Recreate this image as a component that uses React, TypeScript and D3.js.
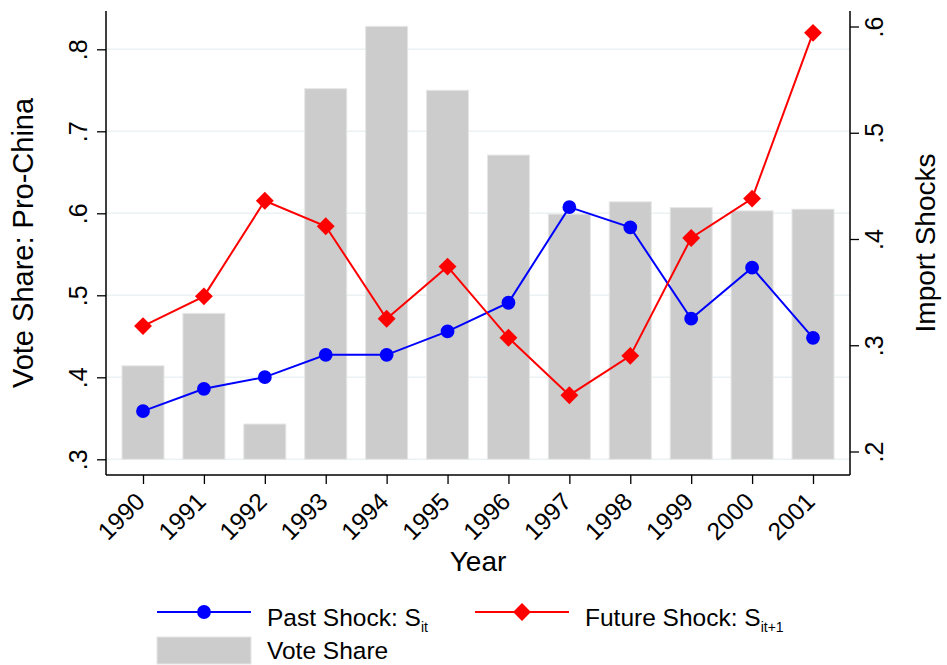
import React, { useEffect, useRef } from 'react'
import * as d3 from 'd3'

const years = [1990, 1991, 1992, 1993, 1994, 1995, 1996, 1997, 1998, 1999, 2000, 2001]
const voteShare = [0.414, 0.478, 0.343, 0.752, 0.828, 0.750, 0.671, 0.599, 0.614, 0.607, 0.603, 0.605]
const pastShock = [0.238, 0.259, 0.270, 0.291, 0.291, 0.313, 0.340, 0.430, 0.411, 0.325, 0.373, 0.307]
const futureShock = [0.318, 0.346, 0.436, 0.412, 0.325, 0.374, 0.307, 0.253, 0.290, 0.401, 0.438, 0.594]
const leftTicks = [0.3, 0.4, 0.5, 0.6, 0.7, 0.8]
const rightTicks = [0.2, 0.3, 0.4, 0.5, 0.6]

const FONT = '"Liberation Sans", Arial, Helvetica, sans-serif'

export default function App() {
  const svgRef = useRef<SVGSVGElement>(null)

  useEffect(() => {
    const svg = d3.select(svgRef.current)
    svg.selectAll('*').remove()

    // plot region (Stata-ish layout)
    const left = 106, right = 850, top = 11, bottom = 475

    const x = d3.scaleLinear().domain([1990, 2001]).range([143, 813])
    const yLeft = d3.scaleLinear().domain([0.3, 0.8]).range([459.3, 49.3])
    const yRight = d3.scaleLinear().domain([0.2, 0.6]).range([451.5, 26.5])
    const step = x(1991) - x(1990)
    const barW = step * 0.69
    const fmt = (d: number) => d3.format('.1f')(d).replace(/^0/, '')

    // gridlines
    svg.append('g').selectAll('line').data(leftTicks).join('line')
      .attr('x1', left).attr('x2', right)
      .attr('y1', d => yLeft(d)).attr('y2', d => yLeft(d))
      .attr('stroke', '#eaf2f3').attr('stroke-width', 1.6)

    // bars
    svg.append('g').selectAll('rect').data(years).join('rect')
      .attr('x', d => x(d) - barW / 2)
      .attr('width', barW)
      .attr('y', (d, i) => yLeft(voteShare[i]))
      .attr('height', (d, i) => yLeft(0.3) - yLeft(voteShare[i]))
      .attr('fill', '#cccccc')
      .attr('stroke', '#e6e6e6').attr('stroke-width', 1)

    const line = (vals: number[]) => d3.line<number>()
      .x((d, i) => x(years[i]))
      .y(d => yRight(d))(vals)

    const circle = d3.symbol(d3.symbolCircle, 150)
    const diamond = d3.symbol(d3.symbolSquare, 160)

    svg.append('path').attr('d', line(pastShock))
      .attr('fill', 'none').attr('stroke', '#0000ff').attr('stroke-width', 2)
    svg.append('path').attr('d', line(futureShock))
      .attr('fill', 'none').attr('stroke', '#ff0000').attr('stroke-width', 2)

    svg.append('g').selectAll('path').data(pastShock).join('path')
      .attr('d', circle)
      .attr('transform', (d, i) => `translate(${x(years[i])},${yRight(d)})`)
      .attr('fill', '#0000ff')
    svg.append('g').selectAll('path').data(futureShock).join('path')
      .attr('d', diamond)
      .attr('transform', (d, i) => `translate(${x(years[i])},${yRight(d)}) rotate(45)`)
      .attr('fill', '#ff0000')

    // axes
    const leftAxis = svg.append('g').attr('transform', `translate(${left},0)`)
      .call(d3.axisLeft(yLeft).tickValues(leftTicks).tickSize(9).tickSizeOuter(0).tickFormat(fmt as any))
    const rightAxis = svg.append('g').attr('transform', `translate(${right},0)`)
      .call(d3.axisRight(yRight).tickValues(rightTicks).tickSize(9).tickSizeOuter(0).tickFormat(fmt as any))
    const bottomAxis = svg.append('g').attr('transform', `translate(0,${bottom})`)
      .call(d3.axisBottom(x).tickValues(years).tickSize(9).tickSizeOuter(0).tickFormat(d3.format('d') as any))

    ;[leftAxis, rightAxis, bottomAxis].forEach(a => {
      a.select('.domain').remove()
      a.selectAll('line').attr('stroke', '#000').attr('stroke-width', 1.3)
      a.selectAll('text').attr('font-family', FONT).attr('fill', '#000')
        .attr('x', 0).attr('y', 0).attr('dy', 0)
    })

    leftAxis.selectAll('text').attr('font-size', 25).attr('text-anchor', 'middle')
      .attr('transform', 'translate(-19,0) rotate(-90)')
    rightAxis.selectAll('text').attr('font-size', 25).attr('text-anchor', 'middle')
      .attr('transform', 'translate(33,0) rotate(-90)')
    bottomAxis.selectAll('text').attr('font-size', 24.5).attr('text-anchor', 'end')
      .attr('transform', 'translate(3,28) rotate(-45)')

    // frame lines
    const frame = svg.append('g').attr('stroke', '#000').attr('stroke-width', 1.5)
    frame.append('line').attr('x1', left).attr('x2', left).attr('y1', top).attr('y2', bottom)
    frame.append('line').attr('x1', right).attr('x2', right).attr('y1', top).attr('y2', bottom)
    frame.append('line').attr('x1', left).attr('x2', right).attr('y1', bottom).attr('y2', bottom)

    // titles
    const midY = (top + bottom) / 2
    svg.append('text').text('Vote Share: Pro-China')
      .attr('transform', `translate(33,${midY}) rotate(-90)`)
      .attr('text-anchor', 'middle').attr('font-size', 29).attr('font-family', FONT)
    svg.append('text').text('Import Shocks')
      .attr('transform', `translate(935,${midY}) rotate(-90)`)
      .attr('text-anchor', 'middle').attr('font-size', 28).attr('font-family', FONT)
    svg.append('text').text('Year')
      .attr('x', (left + right) / 2).attr('y', 571)
      .attr('text-anchor', 'middle').attr('font-size', 28).attr('font-family', FONT)

    // legend
    const lg = svg.append('g').attr('font-family', FONT).attr('font-size', 24.5)
    lg.append('line').attr('x1', 157).attr('x2', 251).attr('y1', 612).attr('y2', 612)
      .attr('stroke', '#0000ff').attr('stroke-width', 2)
    lg.append('path').attr('d', circle).attr('transform', 'translate(204,612)').attr('fill', '#0000ff')
    const t1 = lg.append('text').attr('x', 267).attr('y', 626)
    t1.append('tspan').text('Past Shock: S')
    t1.append('tspan').text('it').attr('font-size', 14).attr('dy', 6)

    lg.append('line').attr('x1', 475).attr('x2', 569).attr('y1', 612).attr('y2', 612)
      .attr('stroke', '#ff0000').attr('stroke-width', 2)
    lg.append('path').attr('d', diamond).attr('transform', 'translate(522,612) rotate(45)').attr('fill', '#ff0000')
    const t2 = lg.append('text').attr('x', 585).attr('y', 626)
    t2.append('tspan').text('Future Shock: S')
    t2.append('tspan').text('it+1').attr('font-size', 14).attr('dy', 6)

    lg.append('rect').attr('x', 157).attr('y', 637).attr('width', 94).attr('height', 27)
      .attr('fill', '#cccccc').attr('stroke', '#e6e6e6')
    lg.append('text').attr('x', 267).attr('y', 659).text('Vote Share')
  }, [])

  return (
    <div style={{ position: 'absolute', left: 0, top: 0 }}>
      <svg ref={svgRef} width={947} height={665} style={{ display: 'block', background: '#fff' }} />
    </div>
  )
}
